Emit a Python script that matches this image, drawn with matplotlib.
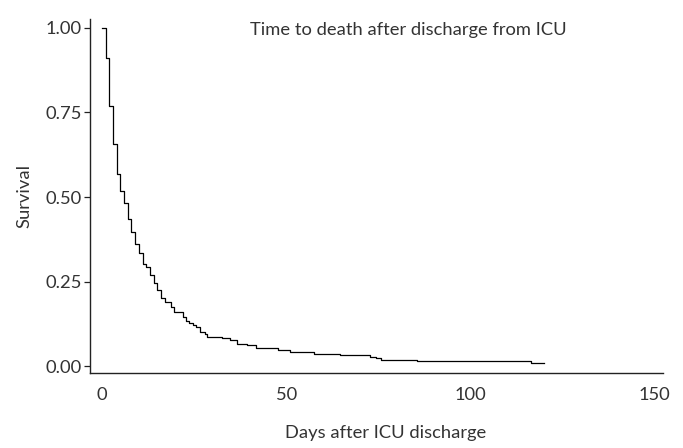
import matplotlib
matplotlib.use("Agg")
import matplotlib.pyplot as plt

# Kaplan-Meier style survival curve
days = [0, 1, 2, 3, 4, 5, 6, 7, 8, 9, 10, 11, 12, 13, 14, 15, 16, 17,
        18.7, 19.5, 22.0, 22.7, 23.5, 24.6, 25.6, 26.6, 27.9, 28.4, 32.6,
        34.7, 36.6, 39.3, 41.7, 47.8, 50.9, 57.6, 64.7, 72.7, 74.4, 75.7,
        85.5, 116.5, 120.0]
survival = [1.000, 0.911, 0.770, 0.656, 0.569, 0.517, 0.481, 0.435, 0.396,
            0.362, 0.334, 0.301, 0.294, 0.270, 0.245, 0.226, 0.201, 0.191,
            0.176, 0.160, 0.147, 0.135, 0.127, 0.121, 0.116, 0.103, 0.096,
            0.088, 0.083, 0.077, 0.065, 0.062, 0.054, 0.049, 0.042, 0.037,
            0.033, 0.027, 0.024, 0.019, 0.016, 0.011, 0.011]
x_ticks = [0, 50, 100, 150]
y_ticks = [0.00, 0.25, 0.50, 0.75, 1.00]
y_tick_labels = ["0.00", "0.25", "0.50", "0.75", "1.00"]
annotation = "Time to death after discharge from ICU"

plt.rcParams['font.family'] = ['Lato', 'DejaVu Sans']
FS = 13.2
W, H = 683, 448
fig = plt.figure(figsize=(W / 100, H / 100), dpi=100)
ax = fig.add_axes([90 / W, 1 - 373 / H, (663 - 90) / W, (373 - 19) / H])

ax.step(days, survival, where='post', color='black', lw=0.9)

ax.set_xlim(-3.25, 152.2)
ax.set_ylim(-0.0195, 1.0257)
ax.set_xticks(x_ticks)
ax.set_yticks(y_ticks)
ax.set_yticklabels(y_tick_labels)

for s in ['top', 'right']:
    ax.spines[s].set_visible(False)
for s in ['left', 'bottom']:
    ax.spines[s].set_color('#222222')
    ax.spines[s].set_linewidth(1.0)

ax.tick_params(axis='x', length=0, pad=10, labelsize=FS, labelcolor='#333333')
ax.tick_params(axis='y', length=4, width=0.9, color='#222222', pad=2,
               labelsize=FS, labelcolor='#333333')

ax.set_xlabel("Days after ICU discharge", fontsize=FS, color='#333333')
ax.set_ylabel("Survival", fontsize=FS, color='#333333')
ax.xaxis.set_label_coords((386 - 90) / (663 - 90), -(425 - 373) / (373 - 19))
ax.yaxis.set_label_coords(-(90 - 32) / (663 - 90), 0.5)

fig.text(408 / W, 1 - 30 / H, annotation, ha='center', va='center',
         fontsize=FS, color='#333333')

fig.savefig("out.png", dpi=100)
